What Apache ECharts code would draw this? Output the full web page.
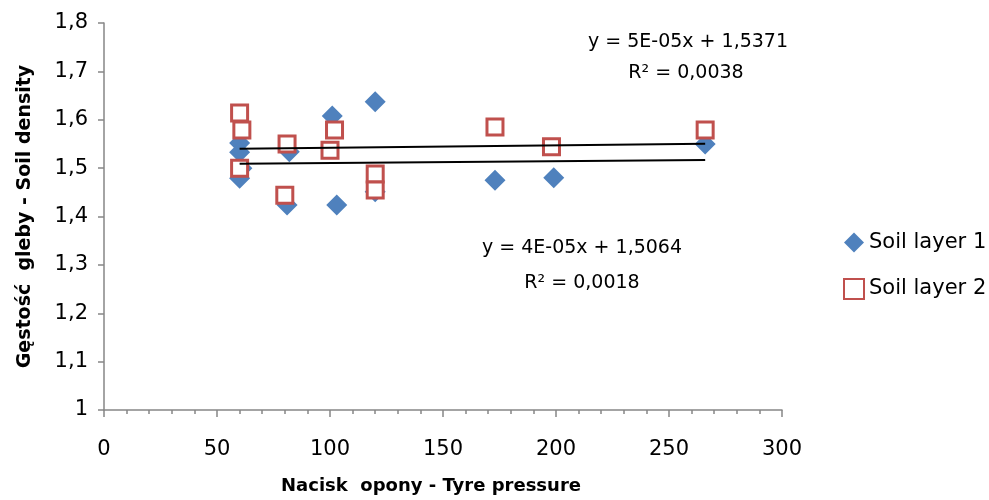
<!DOCTYPE html>
<html>
<head>
<meta charset="utf-8">
<script src="https://cdn.jsdelivr.net/npm/echarts@6/dist/echarts.min.js"></script>
<style>
  html, body { margin: 0; padding: 0; background: #fff; }
  #chart { width: 989px; height: 500px; }
</style>
</head>
<body>
<div id="chart"></div>
<script>
// soil layer 1 (blue diamonds): tyre pressure, density
var layer1X = [60, 60, 61, 60, 82, 81, 101, 103, 120, 120, 173, 199, 266];
var layer1Y = [1.552, 1.533, 1.500, 1.479, 1.534, 1.424, 1.608, 1.424, 1.637, 1.451, 1.475, 1.480, 1.550];
// soil layer 2 (red squares)
var layer2X = [60, 61, 60, 81, 80, 102, 100, 120, 120, 173, 198, 266];
var layer2Y = [1.614, 1.579, 1.500, 1.550, 1.444, 1.579, 1.537, 1.488, 1.455, 1.585, 1.544, 1.579];

// trend line coefficients as printed on the chart
var trend1 = { slope: 4e-5, icept: 1.5064, eq: 'y = 4E-05x + 1,5064', r2: 'R² = 0,0018' };
var trend2 = { slope: 5e-5, icept: 1.5371, eq: 'y = 5E-05x + 1,5371', r2: 'R² = 0,0038' };

var font = 'DejaVu Sans';
var pair = function (xs, ys) { return xs.map(function (x, i) { return [x, ys[i]]; }); };
var trendData = function (xs, t) {
  var lo = Math.min.apply(null, xs), hi = Math.max.apply(null, xs);
  return [[lo, t.icept + t.slope * lo], [hi, t.icept + t.slope * hi]];
};
var comma = function (v) { return String(Math.round(v * 10) / 10).replace('.', ','); };
var label = function (txt, x, y) {
  return { type: 'text', x: x, y: y, style: { text: txt, align: 'center', verticalAlign: 'middle', fontFamily: font, fontSize: 19, fill: '#000' } };
};

var myChart = echarts.init(document.getElementById('chart'));
myChart.setOption({
  animation: false,
  textStyle: { fontFamily: font },
  grid: { left: 104, right: 207, top: 23, bottom: 90 },
  xAxis: {
    type: 'value', min: 0, max: 300, interval: 50,
    name: 'Nacisk  opony - Tyre pressure', nameLocation: 'middle', nameGap: 67,
    nameTextStyle: { fontFamily: font, fontWeight: 'bold', fontSize: 18, color: '#000', padding: [0, 24, 0, 0] },
    axisLine: { lineStyle: { color: '#868686', width: 1.5 } },
    axisTick: { length: 7, lineStyle: { color: '#868686', width: 1.5 } },
    minorTick: { show: true, splitNumber: 5, length: 4, lineStyle: { color: '#868686', width: 1.5 } },
    axisLabel: { fontSize: 21, color: '#000', margin: 29 },
    splitLine: { show: false }
  },
  yAxis: {
    type: 'value', min: 1, max: 1.8, interval: 0.1,
    name: 'Gęstość  gleby - Soil density', nameLocation: 'middle', nameGap: 69,
    nameTextStyle: { fontFamily: font, fontWeight: 'bold', fontSize: 19, color: '#000' },
    axisLine: { show: true, lineStyle: { color: '#868686', width: 1.5 } },
    axisTick: { show: true, length: 6, lineStyle: { color: '#868686', width: 1.5 } },
    axisLabel: { fontSize: 21, color: '#000', margin: 16, formatter: comma },
    splitLine: { show: false }
  },
  legend: {
    orient: 'vertical', left: 838, top: 227, itemGap: 25,
    itemWidth: 20, itemHeight: 20, itemStyle: { opacity: 1 },
    textStyle: { fontSize: 21, color: '#000' },
    data: ['Soil layer 1', 'Soil layer 2']
  },
  series: [
    {
      name: 'Soil layer 1', type: 'scatter', symbol: 'diamond', symbolSize: [21, 21],
      itemStyle: { color: '#4F81BD', opacity: 1 }, z: 2,
      data: pair(layer1X, layer1Y)
    },
    {
      name: 'Soil layer 2', type: 'scatter', symbol: 'rect', symbolSize: 16,
      itemStyle: { color: '#fff', borderColor: '#C0504D', borderWidth: 3, opacity: 1 }, z: 3,
      data: pair(layer2X, layer2Y)
    },
    {
      type: 'line', symbol: 'none', silent: true, z: 4,
      lineStyle: { color: '#000', width: 2 },
      data: trendData(layer1X, trend1)
    },
    {
      type: 'line', symbol: 'none', silent: true, z: 4,
      lineStyle: { color: '#000', width: 2 },
      data: trendData(layer2X, trend2)
    }
  ],
  graphic: [
    label(trend2.eq, 688, 42),
    label(trend2.r2, 686, 73),
    label(trend1.eq, 582, 248),
    label(trend1.r2, 582, 283)
  ]
});
</script>
</body>
</html>
